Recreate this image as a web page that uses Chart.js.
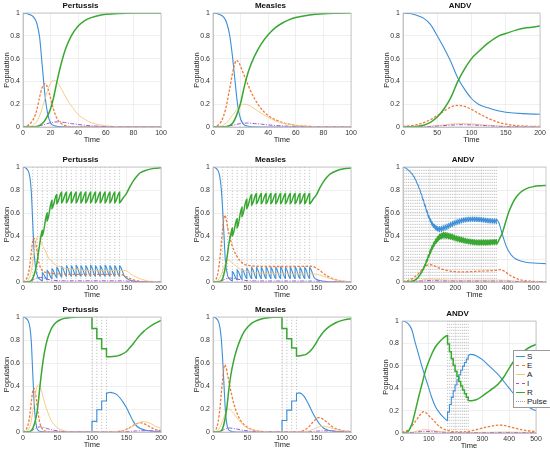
<!DOCTYPE html>
<html>
<head>
<meta charset="utf-8">
<title>SEAIR pulse simulations</title>
<script src="https://cdn.jsdelivr.net/npm/chart.js@4.4.0/dist/chart.umd.min.js"></script>
<style>
  body { margin: 0; background: #fff; width: 550px; height: 453px; position: relative; overflow: hidden;
         font-family: "Liberation Sans", Arial, sans-serif; }
  canvas { position: absolute; }
  #legend { position: absolute; left: 513px; top: 350px; width: 36px; padding: 1px 0 1px 2px;
            background: #fff; border: 0.7px solid #9a9a9a; z-index: 5; font-size: 8px; color: #222; }
  #legend .item { display: flex; align-items: center; height: 9px; }
  #legend .swatch { display: inline-block; width: 9px; height: 0; margin-right: 2px; }
</style>
</head>
<body>
<div id="legend"></div>
<script>
// ---- data (time, population fraction) ----

// row 1: no pulses
const pert1S = [[0,1],[4,0.99],[8,0.96],[10,0.91],[12,0.79],[14,0.53],[16,0.27],[18,0.11],[20,0.035],[23,0.01],[27,0.003],[35,0],[100,0]];
const pert1E = [[0,0],[3,0.01],[6,0.04],[8,0.08],[10,0.15],[12,0.26],[14,0.35],[16,0.38],[18,0.34],[20,0.25],[22,0.16],[24,0.09],[26,0.05],[30,0.015],[35,0.003],[45,0],[100,0]];
const pert1A = [[0,0],[5,0.005],[10,0.05],[13,0.13],[16,0.25],[19,0.36],[22,0.41],[25,0.39],[28,0.33],[32,0.24],[36,0.17],[40,0.11],[45,0.065],[50,0.035],[55,0.02],[60,0.01],[70,0.003],[80,0],[100,0]];
const pert1I = [[0,0],[10,0.005],[15,0.02],[20,0.038],[25,0.045],[30,0.04],[35,0.03],[40,0.022],[45,0.015],[50,0.01],[60,0.004],[70,0.001],[100,0]];
const pert1R = [[0,0],[10,0.005],[14,0.03],[17,0.08],[20,0.16],[22,0.25],[25,0.42],[28,0.57],[31,0.69],[35,0.8],[40,0.885],[45,0.935],[50,0.962],[55,0.978],[60,0.988],[70,0.996],[80,0.999],[100,1]];

const meas1S = [[0,1],[4,0.99],[8,0.96],[10,0.91],[12,0.81],[14,0.63],[16,0.4],[18,0.18],[20,0.07],[22,0.025],[25,0.008],[30,0.002],[40,0],[100,0]];
const meas1E = [[0,0],[3,0.01],[6,0.05],[9,0.15],[12,0.33],[15,0.52],[17,0.585],[19,0.56],[21,0.5],[25,0.38],[30,0.25],[35,0.16],[40,0.1],[45,0.065],[50,0.04],[60,0.015],[70,0.005],[80,0.001],[100,0]];
const meas1A = [[0,0],[5,0.005],[10,0.04],[14,0.1],[17,0.15],[20,0.19],[23,0.2],[26,0.19],[30,0.16],[35,0.12],[40,0.085],[45,0.055],[50,0.035],[60,0.015],[70,0.005],[80,0.001],[100,0]];
const meas1I = [[0,0],[10,0.005],[15,0.018],[20,0.03],[25,0.035],[30,0.03],[35,0.025],[40,0.018],[50,0.01],[60,0.004],[70,0.001],[100,0]];
const meas1R = [[0,0],[10,0.005],[14,0.03],[17,0.1],[20,0.21],[23,0.37],[26,0.5],[30,0.62],[35,0.73],[40,0.81],[45,0.87],[50,0.91],[55,0.94],[60,0.96],[70,0.983],[80,0.994],[90,0.998],[100,1]];

const andv1S = [[0,1],[10,0.995],[20,0.98],[30,0.955],[40,0.9],[50,0.8],[60,0.69],[70,0.57],[80,0.43],[90,0.33],[100,0.25],[110,0.2],[125,0.166],[140,0.14],[150,0.13],[175,0.117],[200,0.112]];
const andv1E = [[0,0.005],[20,0.02],[35,0.05],[50,0.1],[60,0.14],[70,0.175],[80,0.19],[90,0.18],[100,0.155],[110,0.12],[125,0.075],[140,0.04],[155,0.02],[170,0.01],[185,0.006],[200,0.005]];
const andv1A = [[0,0],[30,0.003],[50,0.012],[70,0.025],[85,0.03],[100,0.027],[120,0.017],[140,0.008],[160,0.003],[200,0.001]];
const andv1I = [[0,0],[30,0.002],[50,0.008],[70,0.016],[85,0.02],[100,0.018],[120,0.012],[140,0.006],[160,0.003],[200,0.001]];
const andv1R = [[0,0],[20,0.005],[30,0.015],[40,0.04],[50,0.087],[60,0.16],[70,0.26],[80,0.4],[90,0.51],[100,0.6],[110,0.66],[125,0.74],[140,0.8],[150,0.82],[165,0.85],[180,0.87],[200,0.885]];

// row 2: repeated pulses, [time, value before pulse, value after pulse]
const pulsesRow2 = [14,21,28,35,42,49,56,63,70,77,84,91,98,105,112,119,126,133,140];

const pert2Spre = [[0,1],[4,0.99],[8,0.96],[10,0.91],[12,0.79],[14,0.53],[16,0.28],[18,0.13],[21,0.05],[24,0.025]];
const pert2Sjump = [[28,0.012,0.08],[35,0.02,0.1],[42,0.03,0.115],[49,0.04,0.125],[56,0.045,0.135],[63,0.05,0.14],[70,0.05,0.14],[77,0.05,0.145],[84,0.05,0.14],[91,0.05,0.14],[98,0.05,0.145],[105,0.05,0.14],[112,0.05,0.14],[119,0.05,0.145],[126,0.05,0.14],[133,0.05,0.14],[140,0.05,0.14]];
const pert2Spost = [[147,0.05],[152,0.025],[158,0.01],[165,0.004],[180,0.001],[200,0]];
const pert2Rpre = [[0,0],[10,0.005],[14,0.03],[17,0.08],[20,0.16],[22,0.24],[25,0.36]];
const pert2Rjump = [[28,0.45,0.4],[35,0.6,0.53],[42,0.71,0.64],[49,0.76,0.68],[56,0.78,0.69],[63,0.78,0.69],[70,0.78,0.69],[77,0.78,0.69],[84,0.78,0.69],[91,0.78,0.69],[98,0.78,0.69],[105,0.78,0.69],[112,0.78,0.69],[119,0.78,0.69],[126,0.78,0.69],[133,0.78,0.69],[140,0.78,0.69]];
const pert2Rpost = [[145,0.73],[150,0.77],[155,0.83],[160,0.88],[165,0.92],[170,0.95],[180,0.975],[190,0.988],[200,0.994]];
const pert2E = [[0,0],[3,0.01],[6,0.04],[8,0.08],[10,0.15],[12,0.26],[14,0.35],[16,0.38],[18,0.35],[20,0.28],[22,0.2],[25,0.13],[28,0.1],[32,0.085],[36,0.08],[40,0.075],[50,0.07],[60,0.068],[80,0.066],[100,0.066],[120,0.066],[140,0.066],[145,0.06],[150,0.045],[155,0.03],[160,0.018],[170,0.006],[180,0.002],[200,0]];
const pert2A = [[0,0],[5,0.005],[10,0.05],[13,0.13],[16,0.25],[19,0.36],[22,0.4],[25,0.37],[28,0.32],[30,0.3],[33,0.26],[36,0.22],[40,0.19],[45,0.16],[50,0.14],[60,0.12],[70,0.11],[80,0.105],[100,0.1],[120,0.1],[140,0.1],[148,0.1],[152,0.09],[156,0.07],[160,0.055],[165,0.04],[170,0.028],[175,0.018],[180,0.01],[190,0.004],[200,0.001]];
const pert2I = [[0,0],[10,0.005],[15,0.02],[20,0.035],[25,0.04],[30,0.035],[35,0.025],[40,0.018],[50,0.012],[60,0.01],[140,0.01],[150,0.008],[160,0.004],[175,0.001],[200,0]];

const meas2Spre = [[0,1],[4,0.99],[8,0.96],[10,0.91],[12,0.81],[14,0.63],[16,0.4],[18,0.18],[21,0.06],[24,0.025]];
const meas2Sjump = [[28,0.012,0.09],[35,0.02,0.105],[42,0.025,0.115],[49,0.03,0.12],[56,0.03,0.125],[63,0.03,0.125],[70,0.03,0.125],[77,0.03,0.13],[84,0.03,0.125],[91,0.03,0.125],[98,0.03,0.13],[105,0.03,0.125],[112,0.03,0.125],[119,0.03,0.13],[126,0.03,0.125],[133,0.03,0.125],[140,0.03,0.125]];
const meas2Spost = [[147,0.035],[152,0.018],[158,0.008],[165,0.003],[180,0.001],[200,0]];
const meas2Rpre = [[0,0],[10,0.005],[14,0.03],[17,0.1],[20,0.2],[23,0.33],[26,0.42]];
const meas2Rjump = [[28,0.47,0.4],[35,0.55,0.47],[42,0.65,0.57],[49,0.72,0.64],[56,0.76,0.67],[63,0.77,0.68],[70,0.77,0.68],[77,0.77,0.68],[84,0.77,0.68],[91,0.77,0.68],[98,0.77,0.68],[105,0.77,0.68],[112,0.77,0.68],[119,0.77,0.68],[126,0.77,0.68],[133,0.77,0.68],[140,0.77,0.68]];
const meas2Rpost = [[145,0.72],[150,0.76],[155,0.82],[160,0.87],[165,0.91],[170,0.94],[180,0.97],[190,0.985],[200,0.992]];
const meas2E = [[0,0],[3,0.01],[6,0.05],[9,0.15],[12,0.33],[15,0.52],[17,0.58],[19,0.55],[21,0.48],[24,0.4],[27,0.33],[30,0.28],[35,0.22],[40,0.18],[45,0.155],[50,0.145],[60,0.138],[80,0.135],[100,0.135],[120,0.135],[140,0.137],[145,0.135],[150,0.12],[155,0.1],[160,0.075],[165,0.055],[170,0.038],[175,0.025],[180,0.016],[190,0.006],[200,0.002]];
const meas2A = [[0,0],[5,0.005],[10,0.04],[14,0.1],[17,0.15],[20,0.18],[23,0.19],[26,0.18],[30,0.155],[35,0.13],[40,0.11],[45,0.1],[50,0.09],[60,0.082],[80,0.075],[100,0.072],[120,0.07],[140,0.07],[150,0.068],[155,0.06],[160,0.05],[165,0.04],[170,0.03],[180,0.016],[190,0.007],[200,0.003]];
const meas2I = [[0,0],[10,0.005],[15,0.018],[20,0.03],[25,0.035],[30,0.03],[40,0.02],[50,0.012],[60,0.009],[140,0.008],[150,0.007],[160,0.005],[175,0.002],[200,0]];

const pulsesAndv2 = [7,14,21,28,35,42,49,56,63,70,77,84,91,98,105,112,119,126,133,140,147,154,161,168,175,182,189,196,203,210,217,224,231,238,245,252,259,266,273,280,287,294,301,308,315,322,329,336,343,350,357];
const andv2Sjump = [[7,0.995,0.995],[14,0.985,0.985],[21,0.972,0.972],[28,0.957,0.957],[35,0.94,0.941],[42,0.914,0.916],[49,0.884,0.886],[56,0.848,0.852],[63,0.807,0.813],[70,0.761,0.77],[77,0.709,0.721],[84,0.657,0.673],[91,0.605,0.625],[98,0.558,0.583],[105,0.52,0.55],[112,0.488,0.522],[119,0.467,0.503],[126,0.45,0.49],[133,0.441,0.483],[140,0.438,0.482],[147,0.44,0.484],[154,0.444,0.49],[161,0.45,0.496],[168,0.457,0.503],[175,0.466,0.51],[182,0.474,0.518],[189,0.482,0.526],[196,0.49,0.532],[203,0.497,0.539],[210,0.503,0.545],[217,0.508,0.55],[224,0.514,0.554],[231,0.518,0.558],[238,0.521,0.561],[245,0.524,0.563],[252,0.525,0.565],[259,0.527,0.565],[266,0.527,0.565],[273,0.527,0.565],[280,0.526,0.564],[287,0.525,0.563],[294,0.524,0.562],[301,0.522,0.56],[308,0.52,0.558],[315,0.518,0.556],[322,0.516,0.554],[329,0.514,0.552],[336,0.513,0.551],[343,0.512,0.55],[350,0.511,0.549],[357,0.509,0.547]];
const andv2Spost = [[360,0.54],[366,0.52],[372,0.48],[379,0.42],[386,0.37],[395,0.31],[405,0.265],[418,0.225],[432,0.2],[450,0.182],[470,0.172],[500,0.165],[547,0.16]];
const andv2Rjump = [[7,0,0],[14,0.001,0.001],[21,0.002,0.002],[28,0.004,0.004],[35,0.008,0.007],[42,0.013,0.012],[49,0.021,0.019],[56,0.037,0.033],[63,0.058,0.052],[70,0.085,0.076],[77,0.116,0.104],[84,0.153,0.137],[91,0.195,0.175],[98,0.238,0.213],[105,0.28,0.251],[112,0.317,0.284],[119,0.348,0.312],[126,0.375,0.336],[133,0.396,0.355],[140,0.412,0.369],[147,0.422,0.378],[154,0.428,0.383],[161,0.428,0.383],[168,0.426,0.381],[175,0.422,0.378],[182,0.417,0.374],[189,0.412,0.369],[196,0.406,0.364],[203,0.401,0.359],[210,0.396,0.355],[217,0.391,0.35],[224,0.386,0.346],[231,0.382,0.342],[238,0.378,0.339],[245,0.375,0.336],[252,0.372,0.333],[259,0.369,0.331],[266,0.367,0.329],[273,0.365,0.327],[280,0.364,0.326],[287,0.363,0.325],[294,0.362,0.324],[301,0.362,0.324],[308,0.362,0.324],[315,0.363,0.325],[322,0.363,0.325],[329,0.364,0.326],[336,0.365,0.327],[343,0.366,0.328],[350,0.367,0.329],[357,0.368,0.33]];
const andv2Rpost = [[360,0.335],[366,0.36],[372,0.39],[379,0.42],[386,0.47],[395,0.54],[405,0.61],[418,0.68],[432,0.735],[450,0.78],[470,0.81],[500,0.83],[525,0.837],[547,0.84]];
const andv2E = [[0,0.005],[20,0.015],[40,0.035],[60,0.075],[75,0.115],[90,0.145],[100,0.15],[110,0.148],[125,0.135],[140,0.12],[160,0.105],[180,0.095],[200,0.09],[230,0.088],[260,0.09],[290,0.094],[320,0.097],[350,0.1],[360,0.102],[370,0.108],[378,0.105],[390,0.09],[405,0.065],[420,0.045],[440,0.025],[460,0.014],[490,0.007],[520,0.004],[547,0.003]];
const andv2A = [[0,0],[50,0.008],[80,0.02],[100,0.026],[120,0.024],[150,0.018],[200,0.016],[300,0.016],[360,0.017],[380,0.016],[420,0.01],[460,0.005],[500,0.002],[547,0.001]];
const andv2I = [[0,0],[50,0.004],[80,0.01],[100,0.012],[150,0.009],[200,0.008],[350,0.008],[390,0.007],[430,0.004],[480,0.002],[547,0.001]];

// row 3: short pulse series
const pulsesRow3 = [100,107,114,121];

const pert3Sjump = [[100,0,0.092],[107,0.092,0.193],[114,0.193,0.27],[121,0.27,0.337]];
const pert3Spost = [[126,0.345],[131,0.34],[136,0.325],[140,0.3],[145,0.26],[150,0.21],[155,0.15],[160,0.09],[165,0.05],[170,0.03],[178,0.015],[188,0.007],[200,0.003]];
const pert3Rjump = [[100,1,0.9],[107,0.9,0.81],[114,0.81,0.725],[121,0.725,0.654]];
const pert3Rpost = [[130,0.656],[137,0.662],[143,0.675],[150,0.7],[155,0.735],[160,0.77],[165,0.81],[170,0.845],[175,0.875],[180,0.9],[190,0.94],[200,0.97]];
const pert3E = [[0,0],[3,0.01],[6,0.04],[8,0.08],[10,0.15],[12,0.26],[14,0.35],[16,0.38],[18,0.34],[20,0.25],[22,0.16],[24,0.09],[26,0.05],[30,0.015],[35,0.003],[45,0],[125,0],[135,0.003],[145,0.012],[152,0.03],[158,0.05],[163,0.068],[168,0.078],[172,0.079],[177,0.068],[183,0.048],[190,0.027],[196,0.015],[200,0.01]];
const pert3A = [[0,0],[5,0.005],[10,0.05],[13,0.13],[16,0.25],[19,0.36],[22,0.41],[25,0.39],[28,0.33],[32,0.24],[36,0.17],[40,0.11],[45,0.065],[50,0.035],[55,0.02],[60,0.01],[70,0.003],[80,0],[130,0.002],[145,0.012],[155,0.035],[163,0.065],[170,0.085],[175,0.09],[180,0.085],[186,0.07],[192,0.05],[200,0.032]];
const pert3I = [[0,0],[10,0.005],[15,0.02],[20,0.038],[25,0.045],[30,0.04],[35,0.03],[40,0.022],[45,0.015],[50,0.01],[60,0.004],[70,0.001],[130,0],[150,0.004],[165,0.009],[178,0.011],[190,0.009],[200,0.007]];

const meas3Sjump = [[100,0,0.1],[107,0.1,0.19],[114,0.19,0.27],[121,0.27,0.335]];
const meas3Spost = [[124,0.34],[128,0.335],[132,0.31],[136,0.27],[141,0.21],[146,0.15],[151,0.1],[155,0.065],[160,0.035],[166,0.018],[172,0.01],[182,0.004],[200,0.001]];
const meas3Rjump = [[100,1,0.9],[107,0.9,0.81],[114,0.81,0.73],[121,0.73,0.66]];
const meas3Rpost = [[128,0.665],[135,0.675],[142,0.71],[148,0.76],[154,0.82],[160,0.87],[167,0.91],[178,0.95],[190,0.975],[200,0.985]];
const meas3E = [[0,0],[3,0.01],[6,0.05],[9,0.15],[12,0.33],[15,0.52],[17,0.585],[19,0.56],[21,0.5],[25,0.38],[30,0.25],[35,0.16],[40,0.1],[45,0.065],[50,0.04],[60,0.015],[70,0.005],[80,0.001],[100,0],[125,0.003],[132,0.015],[138,0.04],[144,0.08],[149,0.11],[153,0.125],[157,0.12],[162,0.1],[167,0.075],[173,0.045],[180,0.025],[188,0.012],[200,0.004]];
const meas3A = [[0,0],[5,0.005],[10,0.04],[14,0.1],[17,0.15],[20,0.19],[23,0.2],[26,0.19],[30,0.16],[35,0.12],[40,0.085],[45,0.055],[50,0.035],[60,0.015],[70,0.005],[80,0.001],[100,0],[130,0.003],[140,0.012],[148,0.03],[154,0.045],[158,0.05],[163,0.048],[168,0.04],[175,0.028],[183,0.016],[192,0.008],[200,0.004]];
const meas3I = [[0,0],[10,0.005],[15,0.018],[20,0.03],[25,0.035],[30,0.03],[35,0.025],[40,0.018],[50,0.01],[60,0.004],[70,0.001],[130,0],[145,0.004],[155,0.009],[162,0.01],[172,0.008],[185,0.004],[200,0.002]];

const pulsesAndv3 = [170,177,184,191,198,205,212,219,226,233,240,247];
const andv3Spre = [[0,1],[15,0.99],[25,0.97],[37,0.92],[50,0.8],[62,0.7],[75,0.59],[88,0.49],[100,0.4],[112,0.31],[125,0.235],[140,0.18],[155,0.14]];
const andv3Sjump = [[170,0.11,0.186],[177,0.186,0.255],[184,0.255,0.318],[191,0.318,0.376],[198,0.376,0.428],[205,0.428,0.476],[212,0.476,0.52],[219,0.52,0.56],[226,0.56,0.597],[233,0.597,0.63],[240,0.63,0.66],[247,0.66,0.69]];
const andv3Spost = [[254,0.702],[265,0.7],[280,0.685],[300,0.655],[320,0.61],[340,0.565],[360,0.52],[380,0.46],[400,0.4],[420,0.34],[440,0.29],[460,0.25],[480,0.22],[500,0.2]];
const andv3Rpre = [[0,0],[15,0.005],[25,0.02],[37,0.08],[50,0.2],[62,0.32],[75,0.44],[88,0.56],[100,0.64],[112,0.71],[125,0.77],[140,0.815],[155,0.85]];
const andv3Rjump = [[170,0.87,0.794],[177,0.794,0.725],[184,0.725,0.662],[191,0.662,0.604],[198,0.604,0.552],[205,0.552,0.504],[212,0.504,0.46],[219,0.46,0.42],[226,0.42,0.383],[233,0.383,0.35],[240,0.35,0.32],[247,0.32,0.29]];
const andv3Rpost = [[254,0.288],[265,0.29],[280,0.3],[300,0.33],[320,0.365],[340,0.4],[360,0.44],[380,0.5],[400,0.58],[420,0.65],[440,0.7],[460,0.74],[480,0.77],[500,0.79]];
const andv3E = [[0,0.005],[25,0.03],[40,0.07],[55,0.12],[70,0.17],[80,0.19],[90,0.18],[100,0.155],[115,0.12],[130,0.08],[145,0.05],[160,0.03],[175,0.02],[200,0.01],[230,0.01],[260,0.02],[290,0.037],[320,0.055],[345,0.066],[365,0.07],[385,0.066],[410,0.05],[440,0.032],[470,0.02],[500,0.012]];
const andv3A = [[0,0],[40,0.008],[70,0.025],[85,0.03],[100,0.028],[125,0.018],[150,0.01],[200,0.004],[280,0.004],[360,0.008],[420,0.007],[500,0.004]];
const andv3I = [[0,0],[40,0.004],[70,0.012],[90,0.015],[110,0.013],[140,0.008],[200,0.003],[300,0.003],[380,0.005],[450,0.004],[500,0.003]];

const seriesNames = ['S', 'E', 'A', 'I', 'R'];
const yTicks = [0, 0.2, 0.4, 0.6, 0.8, 1];
const xTicks100 = [0, 20, 40, 60, 80, 100];
const xTicks200 = [0, 50, 100, 150, 200];
const xTicks500 = [0, 100, 200, 300, 400, 500];

// ---- styles ----
const FONT = '"Liberation Sans", Arial, sans-serif';
const colors = { S: '#3d8fd8', E: '#f07b3a', A: '#f5c67a', I: '#a24fd8', R: '#38a832', Pulse: '#9d9d9d' };
const widths = { S: 1.1, E: 1.3, A: 0.9, I: 1.0, R: 1.5, Pulse: 0.6 };
const dashes = { S: [], E: [2.5, 1.6], A: [], I: [4, 1.5, 1, 1.5], R: [], Pulse: [1.2, 1.8] };
const legendLines = { S: 'solid', E: 'dashed', A: 'solid', I: 'dashed', R: 'solid', Pulse: 'dotted' };

// helpers: turn the read tables into {x,y} points
const pts = list => list.map(([x, y]) => ({ x, y }));
const jumps = table => table.flatMap(([t, before, after]) => [{ x: t, y: before }, { x: t, y: after }]);
const pulseLines = times => times.flatMap(t => [{ x: t, y: 0 }, { x: t, y: 1 }, { x: t, y: null }]);

const panels = [
  { title: 'Pertussis', rect: [23, 13, 161, 127], xMax: 100, xTicks: xTicks100,
    S: pts(pert1S), E: pts(pert1E), A: pts(pert1A), I: pts(pert1I), R: pts(pert1R) },
  { title: 'Measles', rect: [213, 13, 351, 127], xMax: 100, xTicks: xTicks100,
    S: pts(meas1S), E: pts(meas1E), A: pts(meas1A), I: pts(meas1I), R: pts(meas1R) },
  { title: 'ANDV', rect: [403, 13, 540, 127], xMax: 200, xTicks: xTicks200,
    S: pts(andv1S), E: pts(andv1E), A: pts(andv1A), I: pts(andv1I), R: pts(andv1R) },

  { title: 'Pertussis', rect: [23, 167, 161, 282], xMax: 200, xTicks: xTicks200, pulses: pulsesRow2,
    S: [...pts(pert2Spre), ...jumps(pert2Sjump), ...pts(pert2Spost)],
    E: pts(pert2E), A: pts(pert2A), I: pts(pert2I),
    R: [...pts(pert2Rpre), ...jumps(pert2Rjump), ...pts(pert2Rpost)] },
  { title: 'Measles', rect: [213, 167, 351, 282], xMax: 200, xTicks: xTicks200, pulses: pulsesRow2,
    S: [...pts(meas2Spre), ...jumps(meas2Sjump), ...pts(meas2Spost)],
    E: pts(meas2E), A: pts(meas2A), I: pts(meas2I),
    R: [...pts(meas2Rpre), ...jumps(meas2Rjump), ...pts(meas2Rpost)] },
  { title: 'ANDV', rect: [403, 167, 546, 282], xMax: 547, xTicks: xTicks500, pulses: pulsesAndv2,
    S: [{ x: 0, y: 1 }, ...jumps(andv2Sjump), ...pts(andv2Spost)],
    E: pts(andv2E), A: pts(andv2A), I: pts(andv2I),
    R: [{ x: 0, y: 0 }, ...jumps(andv2Rjump), ...pts(andv2Rpost)] },

  { title: 'Pertussis', rect: [23, 317, 161, 432], xMax: 200, xTicks: xTicks200, pulses: pulsesRow3,
    S: [...pts(pert1S), ...jumps(pert3Sjump), ...pts(pert3Spost)],
    E: pts(pert3E), A: pts(pert3A), I: pts(pert3I),
    R: [...pts(pert1R), ...jumps(pert3Rjump), ...pts(pert3Rpost)] },
  { title: 'Measles', rect: [213, 317, 351, 432], xMax: 200, xTicks: xTicks200, pulses: pulsesRow3,
    S: [...pts(meas1S), ...jumps(meas3Sjump), ...pts(meas3Spost)],
    E: pts(meas3E), A: pts(meas3A), I: pts(meas3I),
    R: [...pts(meas1R), ...jumps(meas3Rjump), ...pts(meas3Rpost)] },
  { title: 'ANDV', rect: [402, 321, 536, 433], xMax: 500, xTicks: xTicks500, pulses: pulsesAndv3, legend: 'legend',
    S: [...pts(andv3Spre), ...jumps(andv3Sjump), ...pts(andv3Spost)],
    E: pts(andv3E), A: pts(andv3A), I: pts(andv3I),
    R: [...pts(andv3Rpre), ...jumps(andv3Rjump), ...pts(andv3Rpost)] }
];

// MATLAB-like box around the axes
const boxPlugin = {
  id: 'box',
  afterDatasetsDraw(chart) {
    const { ctx, chartArea: a } = chart;
    ctx.save();
    ctx.strokeStyle = '#bdbdbd';
    ctx.lineWidth = 0.8;
    ctx.strokeRect(a.left, a.top, a.right - a.left, a.bottom - a.top);
    ctx.restore();
  }
};

// legend as html, built from the chart's own datasets
const htmlLegend = {
  id: 'htmlLegend',
  afterUpdate(chart, args, opts) {
    const box = document.getElementById(opts.containerID);
    if (!box) return;
    box.innerHTML = '';
    chart.data.datasets.forEach(ds => {
      const row = document.createElement('div');
      row.className = 'item';
      const sw = document.createElement('span');
      sw.className = 'swatch';
      sw.style.borderTop = `${Math.max(ds.borderWidth, 1)}px ${legendLines[ds.label]} ${ds.borderColor}`;
      const tx = document.createElement('span');
      tx.textContent = ds.label;
      row.append(sw, tx);
      box.append(row);
    });
  }
};

const Y_W = 23, TITLE_H = 13, X_H = 19, PAD_R = 10;

function drawPanel(p) {
  const [L, T, R, B] = p.rect;
  const w = R - L + Y_W + PAD_R, h = B - T + TITLE_H + X_H;
  const cv = document.createElement('canvas');
  cv.width = w; cv.height = h;
  cv.style.left = (L - Y_W) + 'px';
  cv.style.top = (T - TITLE_H) + 'px';
  cv.style.width = w + 'px';
  cv.style.height = h + 'px';
  document.body.appendChild(cv);

  const datasets = seriesNames.map((n, i) => ({
    label: n,
    data: p[n],
    borderColor: colors[n],
    borderWidth: widths[n],
    borderDash: dashes[n],
    order: 5 - i,
    cubicInterpolationMode: 'monotone',
    pointRadius: 0,
    fill: false
  }));
  if (p.pulses) {
    datasets.push({
      label: 'Pulse',
      data: pulseLines(p.pulses),
      borderColor: colors.Pulse,
      borderWidth: widths.Pulse,
      borderDash: dashes.Pulse,
      order: 10,
      tension: 0,
      spanGaps: false,
      pointRadius: 0,
      fill: false
    });
  }

  const tickFont = { family: FONT, size: 7 };
  const labelFont = { family: FONT, size: 7.5 };
  const gridOpts = { color: '#e4e4e4', lineWidth: 0.6, drawTicks: false };

  new Chart(cv, {
    type: 'line',
    data: { datasets },
    plugins: p.legend ? [boxPlugin, htmlLegend] : [boxPlugin],
    options: {
      responsive: false,
      animation: false,
      layout: { padding: { right: PAD_R } },
      plugins: {
        legend: { display: false },
        tooltip: { enabled: false },
        htmlLegend: { containerID: p.legend },
        title: {
          display: true, text: p.title, color: '#111',
          font: { family: FONT, size: 8, weight: 'bold' },
          padding: { top: 1.2, bottom: 2.2 }
        }
      },
      scales: {
        x: {
          type: 'linear', min: 0, max: p.xMax,
          afterBuildTicks: a => { a.ticks = p.xTicks.map(v => ({ value: v })); },
          ticks: { font: tickFont, color: '#333', padding: 1.5, maxRotation: 0, autoSkip: false },
          grid: gridOpts,
          border: { color: '#bdbdbd', width: 0.8 },
          title: { display: true, text: 'Time', font: labelFont, color: '#222', padding: { top: 0, bottom: 1.5 } },
          afterFit: a => { a.height = X_H; }
        },
        y: {
          min: 0, max: 1,
          afterBuildTicks: a => { a.ticks = yTicks.map(v => ({ value: v })); },
          ticks: { font: tickFont, color: '#333', padding: 3, callback: v => String(+v.toFixed(1)) },
          grid: gridOpts,
          border: { color: '#bdbdbd', width: 0.8 },
          title: { display: true, text: 'Population', font: labelFont, color: '#222', padding: { top: 2, bottom: 0 } },
          afterFit: a => { a.width = Y_W; }
        }
      }
    }
  });
}

panels.forEach(drawPanel);
</script>
</body>
</html>
